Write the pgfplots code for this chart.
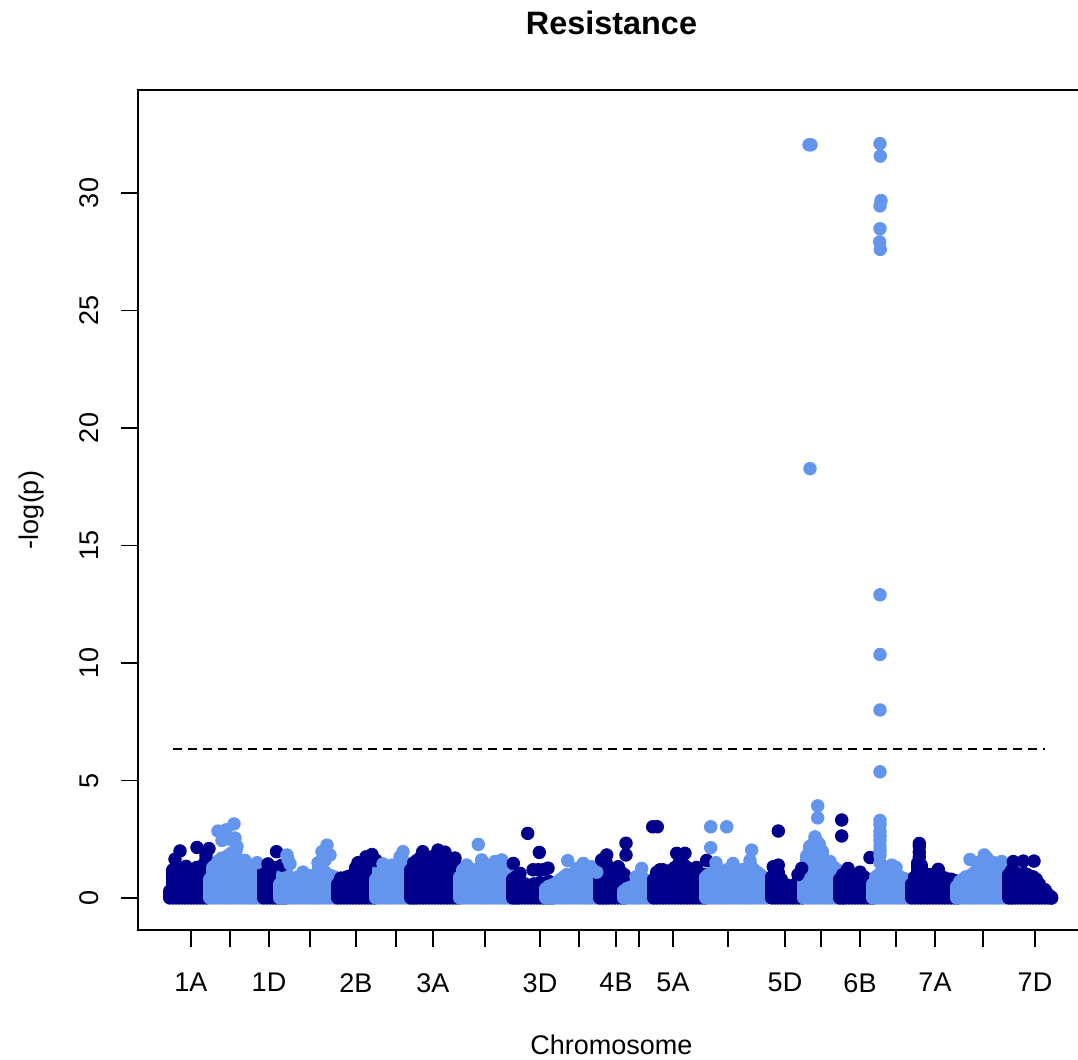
\documentclass[border=0pt]{standalone}
\usepackage{pgfplots}
\pgfplotsset{compat=1.18}
\usepackage{fontspec}
\setmainfont{Liberation Sans}
\definecolor{dk}{RGB}{0,0,139}
\definecolor{lt}{RGB}{100,149,237}
% column of overlapping dots (dense SNP mass) and single SNPs
\pgfplotsset{
  col/.style={ycomb, color=#1, line width=6.7pt, line cap=round},
  pts/.style={only marks, mark=*, color=#1, mark size=3.15pt},
}
\begin{document}
\begin{tikzpicture}
\begin{axis}[
    name=ax,
    scale only axis,
    width=473.5pt, height=420pt,
    xmin=138, xmax=1085,
    ymin=-1.3617, ymax=34.383,
    axis line style={line width=0.75pt},
    tick style={line width=0.75pt, black},
    tick align=outside,
    major tick length=8.5pt,
    xtick pos=left, ytick pos=left,
    xtick={191,230,269,310,356,396,433,485,540,579,616,639,673,728,785,821,860,896,935,983,1035},
    xticklabels={1A,,1D,,2B,,3A,,3D,,4B,,5A,,5D,,6B,,7A,,7D},
    ytick={0,5,...,30},
    /pgf/number format/assume math mode=true,
    ticklabel style={font=\fontsize{13.5}{16}\selectfont},
    xticklabel style={yshift=-13pt, anchor=north, inner sep=0pt},
    yticklabel style={xshift=-10.85pt, rotate=90, anchor=south, inner sep=0pt},
    xlabel={Chromosome},
    xlabel style={at={(0.5,-0.1488)}, anchor=base, font=\fontsize{13.5}{16}\selectfont},
    ylabel={-log(p)},
    ylabel style={at={(-0.112,0.5)}, anchor=center, font=\fontsize{13.5}{16}\selectfont},
]
% 1A
\addplot[col=dk] coordinates {(170,0.3) (173,1.2) (176,1.2) (179,1.0) (182,1.1) (185,1.15) (188,1.1) (191,1.2) (194,1.2) (197,1.3) (200,1.2) (203,1.4) (206,1.6)};
\addplot[pts=dk] coordinates {(175,1.65) (180,2.0) (197,2.15) (209,2.1) (206,1.8) (186,1.35)};
% 1B
\addplot[col=lt] coordinates {(210,0.8) (213,1.3) (216,1.5) (219,1.6) (222,1.7) (225,1.6) (228,1.8) (231,1.9) (234,1.9) (237,1.6) (240,1.4) (243,1.3) (246,1.35) (249,1.3) (252,1.3) (255,1.4) (258,1.3) (261,1.0)};
\addplot[pts=lt] coordinates {(218,2.85) (222,2.45) (226,2.9) (230,2.5) (234,3.15) (235,2.55) (237,2.2) (236,2.0) (245,1.6) (257,1.5)};
% 1D
\addplot[col=dk] coordinates {(264,1.2) (267,1.3) (270,1.3) (273,1.25) (276,1.3) (279,1.2) (282,1.1) (285,0.6)};
\addplot[pts=dk] coordinates {(276.5,1.97) (268,1.45) (282,1.4)};
% 2A
\addplot[col=lt] coordinates {(280,0.6) (283,1.0) (286,1.1) (289,0.9) (292,0.8) (295,0.85) (298,0.9) (301,0.9) (304,0.95) (307,0.9) (310,0.95) (313,0.9) (316,1.0) (319,1.3) (322,1.2) (325,1.1) (328,1.0) (331,0.95) (334,0.9) (336,0.6)};
\addplot[pts=lt] coordinates {(287,1.83) (290,1.45) (288,1.65) (322,1.97) (327,2.25) (330,1.83) (318,1.5) (325,1.6) (303,1.1)};
% 2B
\addplot[col=dk] coordinates {(338,0.6) (341,0.85) (344,0.85) (347,0.9) (350,0.85) (353,1.0) (356,1.3) (359,1.35) (362,1.4) (365,1.5) (368,1.6) (371,1.7) (374,1.5)};
\addplot[pts=dk] coordinates {(358,1.5) (372,1.85) (366,1.75) (376,1.6)};
% 2D
\addplot[col=lt] coordinates {(376,0.8) (379,1.2) (382,1.3) (385,1.3) (388,1.25) (391,1.2) (394,1.0) (397,1.2) (400,1.5) (403,1.6) (406,1.3) (409,0.9) (412,0.6) (415,0.35)};
\addplot[pts=lt] coordinates {(403,1.97) (400,1.75) (383,1.45) (392,1.4)};
% 3A
\addplot[col=dk] coordinates {(411,1.2) (414,1.5) (417,1.6) (420,1.7) (423,1.75) (426,1.7) (429,1.7) (432,1.75) (435,1.8) (438,1.85) (441,1.8) (444,1.7) (447,1.65) (450,1.6) (453,1.5) (456,1.4) (459,1.2)};
\addplot[pts=dk] coordinates {(422.7,1.97) (438,2.04) (445,1.95) (455,1.7)};
% 3B
\addplot[col=lt] coordinates {(460,0.9) (463,1.2) (466,1.3) (469,1.1) (472,1.1) (475,1.2) (478,1.2) (481,1.35) (484,1.2) (487,1.1) (490,1.2) (493,1.2) (496,1.3) (499,1.3) (502,1.35) (505,1.2) (508,1.0) (511,0.8) (514,0.6) (517,0.4)};
\addplot[pts=lt] coordinates {(478.3,2.28) (481.7,1.62) (466.7,1.4) (501.7,1.62) (495,1.55) (488,1.4)};
% 3D
\addplot[col=dk] coordinates {(513,0.8) (516,0.9) (519,0.9) (522,0.6) (525,0.6) (528,0.5) (531,0.5) (534,0.6) (537,0.6) (540,0.65) (543,0.6) (546,0.6) (549,0.7) (552,0.5)};
\addplot[pts=dk] coordinates {(513.3,1.47) (527.7,2.75) (539.3,1.94) (533,1.2) (538,1.2) (543,1.2) (548,1.27) (520,1.05)};
% 4A
\addplot[col=lt] coordinates {(546,0.4) (549,0.5) (552,0.55) (555,0.6) (558,0.7) (561,0.8) (564,0.9) (567,1.0) (570,0.9) (573,0.9) (576,1.0) (579,1.0) (582,1.05) (585,1.0) (588,1.0) (591,1.0) (594,0.95) (597,0.9) (600,0.8) (603,0.7) (606,0.6)};
\addplot[pts=lt] coordinates {(567.7,1.59) (583.3,1.47) (576.7,1.26) (591.7,1.33) (596.7,1.1)};
% 4B
\addplot[col=dk] coordinates {(600,1.2) (603,1.3) (606,1.5) (609,1.2) (612,1.0) (615,1.1) (618,1.25) (621,1.1) (624,1.0)};
\addplot[pts=dk] coordinates {(601.7,1.62) (606.7,1.83) (626,2.33) (626,1.83) (618.3,1.33)};
% 4D
\addplot[col=lt] coordinates {(624,0.3) (627,0.4) (630,0.45) (633,0.5) (636,0.6) (639,0.8) (642,0.9) (645,0.7) (648,0.5) (651,0.45) (654,0.4)};
\addplot[pts=lt] coordinates {(641.7,1.26) (636,0.9)};
% 5A
\addplot[col=dk] coordinates {(654,0.8) (657,1.1) (660,1.2) (663,1.2) (666,1.1) (669,1.0) (672,1.2) (675,1.3) (678,1.4) (681,1.45) (684,1.4) (687,1.3) (690,1.2) (693,1.1) (696,1.2) (699,1.0) (702,0.9) (705,1.0)};
\addplot[pts=dk] coordinates {(652.7,3.03) (657.3,3.03) (676.7,1.9) (685,1.9) (680,1.6) (706.7,1.6) (696.7,1.3)};
% 5B
\addplot[col=lt] coordinates {(706,0.9) (709,1.0) (712,1.1) (715,1.1) (718,1.2) (721,1.1) (724,1.15) (727,1.2) (730,1.2) (733,1.3) (736,1.2) (739,1.1) (742,1.2) (745,1.2) (748,1.3) (751,1.35) (754,1.2) (757,1.1) (760,1.0) (763,0.9) (766,0.8)};
\addplot[pts=lt] coordinates {(710.7,3.03) (726.7,3.03) (710.7,2.14) (751.7,2.04) (750,1.6) (733,1.47) (716,1.5)};
% 5D
\addplot[col=dk] coordinates {(772,0.9) (775,1.1) (778,1.1) (781,0.8) (784,0.6) (787,0.55) (790,0.5) (793,0.5) (796,0.6) (799,0.8) (802,1.0)};
\addplot[pts=dk] coordinates {(778.3,2.85) (778.3,1.4) (773.3,1.33) (801.7,1.26) (798,1.0)};
% 6A
\addplot[col=lt] coordinates {(804,1.0) (807,1.8) (810,2.2) (813,2.3) (816,2.45) (819,2.3) (822,2.0) (825,1.4) (828,1.5) (831,1.4) (834,1.3) (837,1.2) (840,1.0) (843,0.7)};
\addplot[pts=lt] coordinates {(817.7,3.92) (817.7,3.41) (815,2.6) (809,32.05) (811,32.05) (810,18.27) (830,1.55)};
% 6B
\addplot[col=dk] coordinates {(840,0.8) (843,1.0) (846,1.1) (849,1.05) (852,0.9) (855,0.85) (858,0.9) (861,0.95) (864,0.9) (867,0.8) (870,0.7) (873,0.6)};
\addplot[pts=dk] coordinates {(841.7,3.32) (841.7,2.64) (870,1.72) (848,1.26) (860,1.1)};
% 6D
\addplot[col=lt] coordinates {(873,0.6) (876,0.9) (879,1.0) (882,1.0) (885,0.95) (888,1.1) (891,1.2) (894,1.1) (897,1.0) (900,0.9) (903,0.85) (906,0.8) (909,0.7)};
\addplot[pts=lt] coordinates {(880,32.1) (880.3,31.57) (881,29.68) (880,29.45) (880,28.48) (879.7,27.92) (880.3,27.6) (880,12.9) (880,10.36) (880,8.0) (880,5.37) (880,3.3) (880,3.12) (880,2.85) (880,2.65) (880,2.45) (880,2.2) (880,2.0) (880,1.8) (880,1.5) (891.7,1.4) (896,1.3)};
% 7A
\addplot[col=dk] coordinates {(912,0.6) (915,0.9) (918,1.5) (921,1.4) (924,0.9) (927,0.85) (930,0.9) (933,0.9) (936,1.0) (939,1.0) (942,0.9) (945,0.85) (948,0.8) (951,0.8) (954,0.75) (957,0.7)};
\addplot[pts=dk] coordinates {(919.3,2.32) (919.3,2.2) (919.3,1.95) (919.3,1.75) (938.3,1.22) (930,1.0)};
% 7B
\addplot[col=lt] coordinates {(957,0.5) (960,0.7) (963,0.8) (966,0.9) (969,0.9) (972,1.0) (975,1.1) (978,1.3) (981,1.4) (984,1.5) (987,1.4) (990,1.3) (993,1.3) (996,1.35) (999,1.3) (1002,1.3) (1005,1.2) (1008,1.0) (1011,0.8)};
\addplot[pts=lt] coordinates {(970,1.64) (984.3,1.83) (987,1.7) (1001.7,1.55) (994,1.5) (978,1.5)};
% 7D
\addplot[col=dk] coordinates {(1009,1.0) (1012,1.2) (1015,1.1) (1018,1.0) (1021,1.0) (1024,1.05) (1027,1.0) (1030,0.9) (1033,0.9) (1036,0.8) (1039,0.6) (1042,0.4) (1045,0.3) (1048,0.15) (1051,0.05)};
\addplot[pts=dk] coordinates {(1013.3,1.55) (1023.3,1.57) (1034,1.57) (1051.7,0.0) (1045,0.35)};
% significance threshold
\addplot[black, line width=0.75pt, dash pattern=on 4.5pt off 3pt] coordinates {(173,6.34) (1045,6.34)};
\end{axis}
\node[anchor=base, font=\fontsize{16.2}{19}\selectfont\bfseries] at ([yshift=27.5pt]ax.north) {Resistance};
\pgfresetboundingbox
\path ([shift={(-69pt,-65pt)}]ax.south west) rectangle ([shift={(470pt,45pt)}]ax.north west);
\end{tikzpicture}
\end{document}
